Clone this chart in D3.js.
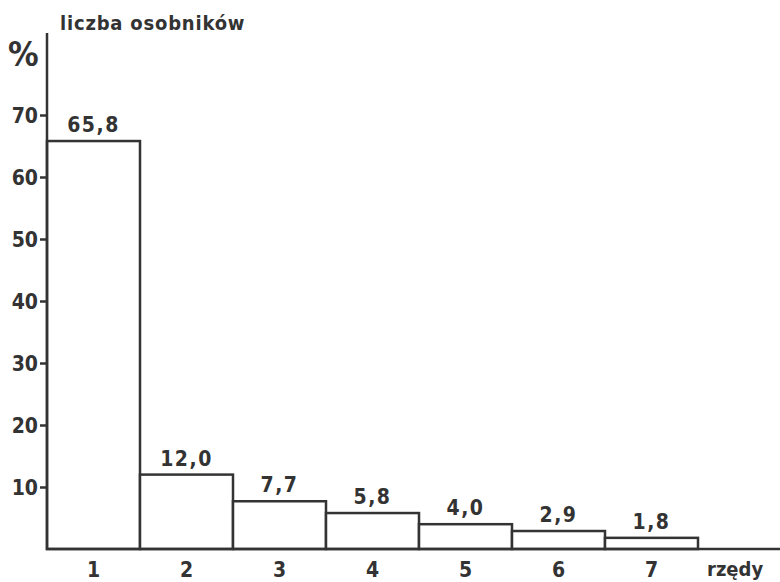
<!DOCTYPE html>
<html>
<head>
<meta charset="utf-8">
<script src="https://cdn.jsdelivr.net/npm/d3@7"></script>
<style>
  body { margin: 0; background: #fff; }
  svg text { font-family: "DejaVu Sans Condensed", "Liberation Sans Narrow", sans-serif; font-weight: bold; fill: #333; }
</style>
</head>
<body>
<svg id="chart" width="780" height="582"></svg>
<script>
// rows and share of specimens (%)
const rows = ["1", "2", "3", "4", "5", "6", "7"];
const shares = [65.8, 12.0, 7.7, 5.8, 4.0, 2.9, 1.8];
const shareLabels = ["65,8", "12,0", "7,7", "5,8", "4,0", "2,9", "1,8"];
const yTicks = [10, 20, 30, 40, 50, 60, 70];

const svg = d3.select("#chart");
const ink = "#333";

const x = d3.scaleBand().domain(rows).range([47, 698]).padding(0);
const y = d3.scaleLinear().domain([0, 70]).range([549, 115]);

// bars
svg.selectAll("rect.bar")
  .data(shares)
  .enter()
  .append("rect")
  .attr("class", "bar")
  .attr("x", (d, i) => x(rows[i]))
  .attr("y", d => y(d))
  .attr("width", x.bandwidth())
  .attr("height", d => y(0) - y(d))
  .attr("fill", "#fff")
  .attr("stroke", ink)
  .attr("stroke-width", 2.5);

// value labels
svg.selectAll("text.val")
  .data(shares)
  .enter()
  .append("text")
  .attr("class", "val")
  .attr("x", (d, i) => x(rows[i]) + x.bandwidth() / 2)
  .attr("y", d => y(d) - 9)
  .attr("text-anchor", "middle")
  .attr("font-size", 21)
  .attr("letter-spacing", 1.5)
  .text((d, i) => shareLabels[i]);

// y axis
const yAxis = d3.axisLeft(y).tickValues(yTicks).tickSize(7).tickPadding(2);
const gy = svg.append("g").attr("transform", "translate(47,0)").call(yAxis);
gy.select(".domain").remove();
gy.selectAll(".tick line").attr("stroke", ink).attr("stroke-width", 2.5);
gy.selectAll(".tick text").attr("font-size", 21).attr("fill", ink)
  .attr("font-family", "DejaVu Sans Condensed, sans-serif").attr("dy", "0.35em");

svg.append("line")
  .attr("x1", 47).attr("x2", 47).attr("y1", 33).attr("y2", y(0) + 1)
  .attr("stroke", ink).attr("stroke-width", 2.5);

// baseline
svg.append("line")
  .attr("x1", 46).attr("x2", 780).attr("y1", y(0)).attr("y2", y(0))
  .attr("stroke", ink).attr("stroke-width", 2.5);

// x categories
svg.selectAll("text.cat")
  .data(rows)
  .enter()
  .append("text")
  .attr("class", "cat")
  .attr("x", d => x(d) + x.bandwidth() / 2)
  .attr("y", 577)
  .attr("text-anchor", "middle")
  .attr("font-size", 21)
  .text(d => d);

// axis titles
svg.append("text").attr("x", 60).attr("y", 30).attr("font-size", 20)
  .attr("letter-spacing", 0.8).text("liczba  osobników");
svg.append("text").attr("x", 8).attr("y", 66).attr("font-size", 34).text("%");
svg.append("text").attr("x", 707).attr("y", 576).attr("font-size", 20).text("rzędy");
</script>
</body>
</html>
